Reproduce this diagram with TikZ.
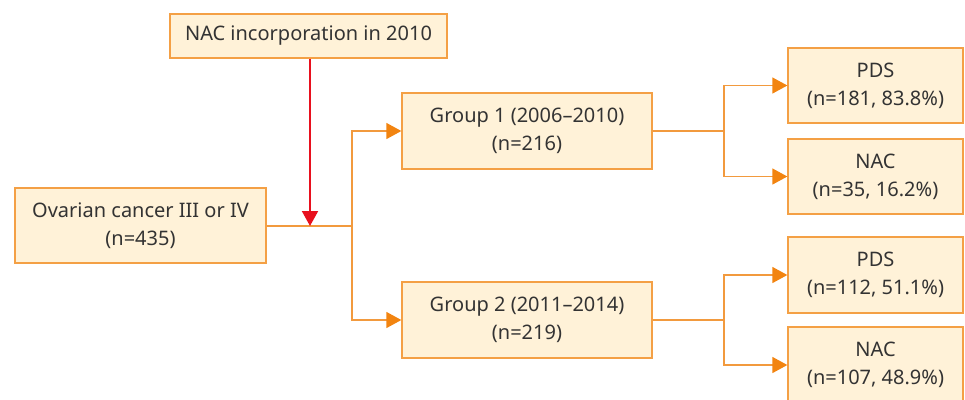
\documentclass[tikz,border=0pt]{standalone}
\usepackage{fontspec}
\setmainfont{Noto Sans}
\usetikzlibrary{arrows.meta}
\definecolor{boxfill}{HTML}{FFF2D8}
\definecolor{boxline}{HTML}{F4A045}
\definecolor{conn}{HTML}{F29A3E}
\definecolor{tipcol}{HTML}{F28410}
\definecolor{redline}{HTML}{E8101E}
\definecolor{txt}{HTML}{333333}
\tikzset{
  box/.style={draw=boxline, line width=1.3pt, fill=boxfill, text=txt, align=center,
    inner sep=0pt, font=\fontsize{20}{28}\selectfont},
  conn/.style={draw=conn, line width=1.3pt},
  arr/.style={conn, -{Triangle[length=15pt,width=16pt,color=tipcol]}},
  redarr/.style={draw=redline, line width=2pt, -{Triangle[length=15pt,width=16pt]}}
}
\begin{document}
\begin{tikzpicture}[x=1pt,y=-1pt]
\useasboundingbox (0,0) rectangle (965,399);
\node[box, minimum width=277pt, minimum height=44pt] (nac) at (308.5,36) {NAC incorporation in 2010};
\node[box, minimum width=251pt, minimum height=75pt] (ov) at (140.5,225.5) {Ovarian cancer III or IV\\(n=435)};
\node[box, minimum width=250pt, minimum height=76pt] (g1) at (527,131) {Group 1 (2006--2010)\\(n=216)};
\node[box, minimum width=250pt, minimum height=76pt] (g2) at (527,320) {Group 2 (2011--2014)\\(n=219)};
\node[box, minimum width=175pt, minimum height=75pt] (p1) at (875.5,85.5) {PDS\\(n=181, 83.8\%)};
\node[box, minimum width=175pt, minimum height=75pt] (n1) at (875.5,176.5) {NAC\\(n=35, 16.2\%)};
\node[box, minimum width=175pt, minimum height=76pt] (p2) at (875.5,275) {PDS\\(n=112, 51.1\%)};
\node[box, minimum width=175pt, minimum height=76pt] (n2) at (875.5,365) {NAC\\(n=107, 48.9\%)};
\coordinate (j0) at (352,226);
\coordinate (j1) at (724,131);
\coordinate (j2) at (724,320);
\coordinate (rt) at (310,226);
\draw[conn] (ov.east |- j0) -- (j0);
\draw[arr] (j0) |- (g1.west);
\draw[arr] (j0) |- (g2.west);
\draw[conn] (g1.east) -- (j1);
\draw[arr] (j1) |- (p1.west);
\draw[arr] (j1) |- (n1.west);
\draw[conn] (g2.east) -- (j2);
\draw[arr] (j2) |- (p2.west);
\draw[arr] (j2) |- (n2.west);
\draw[redarr] (nac.south -| rt) -- (rt);
\end{tikzpicture}
\end{document}
